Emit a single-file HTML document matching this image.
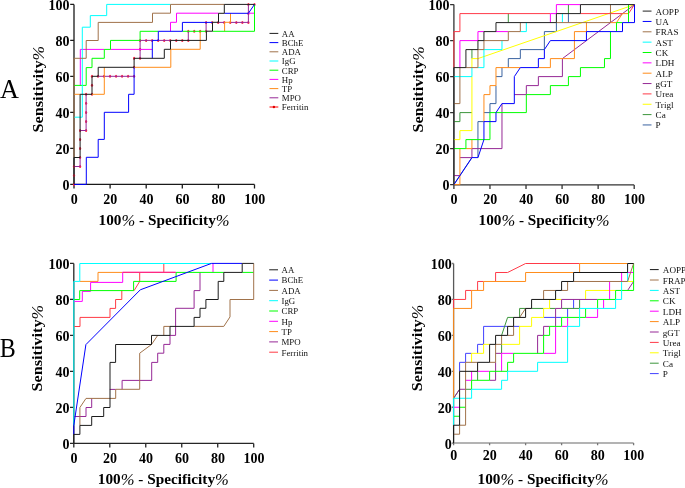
<!DOCTYPE html>
<html><head><meta charset="utf-8"><style>
html,body{margin:0;padding:0;background:#fff;overflow:hidden;}
svg{display:block;will-change:transform;}
text{font-family:"Liberation Serif", serif;fill:#000;}
.tk{font-size:14.0px;font-weight:bold;}
.at{font-size:15.5px;font-weight:bold;}
.lg{fill:#111;}
.pc{font-weight:normal;font-style:italic;font-size:16.8px;baseline-shift:-0.8px;}
.pl{font-size:26.5px;}
</style></head><body>
<svg width="685" height="488" viewBox="0 0 685 488">
<path d="M74,4.4V184.4" fill="none" stroke="#1a1a1a" stroke-width="1.3"/>
<path d="M74,184.4H254.5" fill="none" stroke="#1a1a1a" stroke-width="1.3"/>
<path d="M70.2,184.4H74M74,184.4V188.4M70.2,148.4H74M110.1,184.4V188.4M70.2,112.4H74M146.2,184.4V188.4M70.2,76.4H74M182.3,184.4V188.4M70.2,40.4H74M218.4,184.4V188.4M70.2,4.4H74M254.5,184.4V188.4" fill="none" stroke="#1a1a1a" stroke-width="1.3"/>
<ellipse cx="74" cy="184.4" rx="1.1" ry="1.5" fill="#ff2448"/>
<ellipse cx="74" cy="175.45" rx="1.1" ry="1.5" fill="#ff2448"/>
<ellipse cx="74" cy="166.5" rx="1.1" ry="1.5" fill="#ff2448"/>
<ellipse cx="80.1" cy="166.5" rx="1.1" ry="1.5" fill="#ff2448"/>
<ellipse cx="80.1" cy="157.5" rx="1.1" ry="1.5" fill="#ff2448"/>
<ellipse cx="80.1" cy="148.5" rx="1.1" ry="1.5" fill="#ff2448"/>
<ellipse cx="80.1" cy="139.5" rx="1.1" ry="1.5" fill="#ff2448"/>
<ellipse cx="80.1" cy="130.5" rx="1.1" ry="1.5" fill="#ff2448"/>
<ellipse cx="86.1" cy="130.5" rx="1.1" ry="1.5" fill="#ff2448"/>
<ellipse cx="86.1" cy="121.45" rx="1.1" ry="1.5" fill="#ff2448"/>
<ellipse cx="86.1" cy="112.4" rx="1.1" ry="1.5" fill="#ff2448"/>
<ellipse cx="86.1" cy="103.35" rx="1.1" ry="1.5" fill="#ff2448"/>
<ellipse cx="86.1" cy="94.3" rx="1.1" ry="1.5" fill="#ff2448"/>
<ellipse cx="92" cy="94.3" rx="1.1" ry="1.5" fill="#ff2448"/>
<ellipse cx="92" cy="85.3" rx="1.1" ry="1.5" fill="#ff2448"/>
<ellipse cx="92" cy="76.3" rx="1.1" ry="1.5" fill="#ff2448"/>
<ellipse cx="98.01" cy="76.3" rx="1.1" ry="1.5" fill="#ff2448"/>
<ellipse cx="104.03" cy="76.3" rx="1.1" ry="1.5" fill="#ff2448"/>
<ellipse cx="110.04" cy="76.3" rx="1.1" ry="1.5" fill="#ff2448"/>
<ellipse cx="116.06" cy="76.3" rx="1.1" ry="1.5" fill="#ff2448"/>
<ellipse cx="122.07" cy="76.3" rx="1.1" ry="1.5" fill="#ff2448"/>
<ellipse cx="128.09" cy="76.3" rx="1.1" ry="1.5" fill="#ff2448"/>
<ellipse cx="134.1" cy="76.3" rx="1.1" ry="1.5" fill="#ff2448"/>
<ellipse cx="134.1" cy="67.3" rx="1.1" ry="1.5" fill="#ff2448"/>
<ellipse cx="134.1" cy="58.3" rx="1.1" ry="1.5" fill="#ff2448"/>
<ellipse cx="140.1" cy="58.3" rx="1.1" ry="1.5" fill="#ff2448"/>
<ellipse cx="140.1" cy="49.35" rx="1.1" ry="1.5" fill="#ff2448"/>
<ellipse cx="140.1" cy="40.4" rx="1.1" ry="1.5" fill="#ff2448"/>
<ellipse cx="146.12" cy="40.4" rx="1.1" ry="1.5" fill="#ff2448"/>
<ellipse cx="152.15" cy="40.4" rx="1.1" ry="1.5" fill="#ff2448"/>
<ellipse cx="158.18" cy="40.4" rx="1.1" ry="1.5" fill="#ff2448"/>
<ellipse cx="164.2" cy="40.4" rx="1.1" ry="1.5" fill="#ff2448"/>
<ellipse cx="170.22" cy="40.4" rx="1.1" ry="1.5" fill="#ff2448"/>
<ellipse cx="176.25" cy="40.4" rx="1.1" ry="1.5" fill="#ff2448"/>
<ellipse cx="182.28" cy="40.4" rx="1.1" ry="1.5" fill="#ff2448"/>
<ellipse cx="188.3" cy="40.4" rx="1.1" ry="1.5" fill="#ff2448"/>
<ellipse cx="188.3" cy="31.2" rx="1.1" ry="1.5" fill="#ff2448"/>
<ellipse cx="194.23" cy="31.2" rx="1.1" ry="1.5" fill="#ff2448"/>
<ellipse cx="200.17" cy="31.2" rx="1.1" ry="1.5" fill="#ff2448"/>
<ellipse cx="206.1" cy="31.2" rx="1.1" ry="1.5" fill="#ff2448"/>
<ellipse cx="206.1" cy="22.4" rx="1.1" ry="1.5" fill="#ff2448"/>
<ellipse cx="212.14" cy="22.4" rx="1.1" ry="1.5" fill="#ff2448"/>
<ellipse cx="218.19" cy="22.4" rx="1.1" ry="1.5" fill="#ff2448"/>
<ellipse cx="224.23" cy="22.4" rx="1.1" ry="1.5" fill="#ff2448"/>
<ellipse cx="230.27" cy="22.4" rx="1.1" ry="1.5" fill="#ff2448"/>
<ellipse cx="236.31" cy="22.4" rx="1.1" ry="1.5" fill="#ff2448"/>
<ellipse cx="242.36" cy="22.4" rx="1.1" ry="1.5" fill="#ff2448"/>
<ellipse cx="248.4" cy="22.4" rx="1.1" ry="1.5" fill="#ff2448"/>
<ellipse cx="248.4" cy="13.4" rx="1.1" ry="1.5" fill="#ff2448"/>
<ellipse cx="248.4" cy="4.4" rx="1.1" ry="1.5" fill="#ff2448"/>
<ellipse cx="254.5" cy="4.4" rx="1.1" ry="1.5" fill="#ff2448"/>
<path d="M74,166.5 L80.1,166.5 L80.1,157.5 M80.1,130.5 L86.1,130.5 L86.1,94.3 M98.2,76.3 L134.1,76.3 M140.1,58.3 L140.1,40.4 L152.1,40.4 M158.3,40.4 L170.5,40.4 M188.3,40.4 L188.3,31.2 M206.1,31.2 L206.1,22.4 M218.5,22.4 L224.6,22.4 M230.5,22.4 L248.4,22.4 L248.4,4.4" fill="none" stroke="#962896" stroke-width="1.0" stroke-linejoin="miter"/>
<path d="M74,94.3 L80.1,94.3 M92,94.3 L104.3,94.3 L104.3,67.3 M134.1,67.3 L170.8,67.3 L170.8,49.3 L200.2,49.3 L200.2,31.2 M224.6,31.2 L224.6,22.3 L230.5,22.3 L230.5,13.3" fill="none" stroke="#ff8c1a" stroke-width="1.0" stroke-linejoin="miter"/>
<path d="M80.3,85.4 L80.3,49.4 L104.3,49.4 M110.5,49.4 L152.1,49.4 M170.5,31.3 L170.5,22.3 L176.5,22.3 L176.5,13.2 L218.5,13.2 M248.4,13.2 L254.5,13.2" fill="none" stroke="#ff00ff" stroke-width="1.0" stroke-linejoin="miter"/>
<path d="M74,85.4 L86.2,85.4 L86.2,67.6 L92,67.6 L92,58.3 L104.3,58.3 L104.3,49.4 L110.5,49.4 L110.5,40.4 L140.1,40.4 L140.1,31.3 L158.3,31.3 M182.4,31.3 L206.4,31.3 M212.5,31.3 L254.5,31.3 L254.5,4.4" fill="none" stroke="#00ff00" stroke-width="1.0" stroke-linejoin="miter"/>
<path d="M74,117.2 L82.3,117.2 L82.3,27.2 L90.3,27.2 L90.3,15.6 L106.7,15.6 L106.7,4.4 L170.5,4.4" fill="none" stroke="#00ffff" stroke-width="1.0" stroke-linejoin="miter"/>
<path d="M74,157.5 L74,58.3 L86.2,58.3 L86.2,40.5 L98.2,40.5 L98.2,22.4 L152.5,22.4 L152.5,13.2 L170.5,13.2 L170.5,4.4 L224.3,4.4" fill="none" stroke="#a0724a" stroke-width="1.0" stroke-linejoin="miter"/>
<path d="M74,184.4 L86.3,184.4 L86.3,157.3 L98.2,157.3 L98.2,139.4 L104.3,139.4 L104.3,112.3 L128.6,112.3 L128.6,94.3 L134.1,94.3 L134.1,67.3 M152.3,58.3 L152.3,40.4 L158.3,40.4 L158.3,31.3 L182.4,31.3 L182.4,22.4 L212.5,22.4 M224.3,13.3 L248.4,13.3 L254.5,4.4" fill="none" stroke="#0000ff" stroke-width="1.0" stroke-linejoin="miter"/>
<path d="M74,184.4 L74,157.5 L80.1,157.5 L80.1,94.3 L92,94.3 L92,76.3 L98.2,76.3 L98.2,67.3 L134.1,67.3 L134.1,58.3 L164.3,58.3 L164.3,49.3 L170.5,49.3 L170.5,40.4 L206.4,40.4 L206.4,31.2 L212.5,31.2 L212.5,22.3 L218.5,22.3 L218.5,13.3 L224.3,13.3 L224.3,4.4 L254.5,4.4" fill="none" stroke="#1c1c1c" stroke-width="1.0" stroke-linejoin="miter"/>
<text x="69.6" y="189.7" text-anchor="end" class="tk">0</text>
<text x="74.2" y="204" text-anchor="middle" class="tk">0</text>
<text x="69.6" y="153.7" text-anchor="end" class="tk">20</text>
<text x="110.3" y="204" text-anchor="middle" class="tk">20</text>
<text x="69.6" y="117.7" text-anchor="end" class="tk">40</text>
<text x="146.4" y="204" text-anchor="middle" class="tk">40</text>
<text x="69.6" y="81.7" text-anchor="end" class="tk">60</text>
<text x="182.5" y="204" text-anchor="middle" class="tk">60</text>
<text x="69.6" y="45.7" text-anchor="end" class="tk">80</text>
<text x="218.6" y="204" text-anchor="middle" class="tk">80</text>
<text x="69.6" y="9.7" text-anchor="end" class="tk">100</text>
<text x="254.7" y="204" text-anchor="middle" class="tk">100</text>
<text x="98.6" y="224.9" class="at" textLength="131" lengthAdjust="spacingAndGlyphs">100<tspan class="pc">%</tspan> - Specificity<tspan class="pc">%</tspan></text>
<text transform="translate(42.6,132.4) rotate(-90)" class="at" textLength="86.5" lengthAdjust="spacingAndGlyphs">Sensitivity<tspan class="pc">%</tspan></text>
<path d="M269.5,33.4H278.3" stroke="#1c1c1c" stroke-width="1.0"/>
<text transform="translate(281.8,36.7) scale(1.08,1)" class="lg" font-size="8.2">AA</text>
<path d="M269.5,42.6H278.3" stroke="#0000ff" stroke-width="1.0"/>
<text transform="translate(281.8,45.9) scale(1.08,1)" class="lg" font-size="8.2">BChE</text>
<path d="M269.5,51.8H278.3" stroke="#a0724a" stroke-width="1.0"/>
<text transform="translate(281.8,55.1) scale(1.08,1)" class="lg" font-size="8.2">ADA</text>
<path d="M269.5,61H278.3" stroke="#00ffff" stroke-width="1.0"/>
<text transform="translate(281.8,64.3) scale(1.08,1)" class="lg" font-size="8.2">IgG</text>
<path d="M269.5,70.2H278.3" stroke="#00ff00" stroke-width="1.0"/>
<text transform="translate(281.8,73.5) scale(1.08,1)" class="lg" font-size="8.2">CRP</text>
<path d="M269.5,79.4H278.3" stroke="#ff00ff" stroke-width="1.0"/>
<text transform="translate(281.8,82.7) scale(1.08,1)" class="lg" font-size="8.2">Hp</text>
<path d="M269.5,88.6H278.3" stroke="#ff8c1a" stroke-width="1.0"/>
<text transform="translate(281.8,91.9) scale(1.08,1)" class="lg" font-size="8.2">TP</text>
<path d="M269.5,97.8H278.3" stroke="#962896" stroke-width="1.0"/>
<text transform="translate(281.8,101.1) scale(1.08,1)" class="lg" font-size="8.2">MPO</text>
<path d="M269.5,107H278.3" stroke="#ff0000" stroke-width="1.0"/>
<circle cx="273.9" cy="107" r="1.2" fill="#e00000"/>
<text transform="translate(281.8,110.3) scale(1.08,1)" class="lg" font-size="8.2">Ferritin</text>
<text x="0.1" y="98.2" class="pl" textLength="18.9" lengthAdjust="spacingAndGlyphs">A</text>
<path d="M453.9,4.6V184.9" fill="none" stroke="#333333" stroke-width="1.3"/>
<path d="M453.9,184.9H634.2" fill="none" stroke="#333333" stroke-width="1.3"/>
<path d="M450.1,184.6H453.9M453.9,184.9V188.9M450.1,148.6H453.9M489.96,184.9V188.9M450.1,112.6H453.9M526.02,184.9V188.9M450.1,76.6H453.9M562.08,184.9V188.9M450.1,40.6H453.9M598.14,184.9V188.9M450.1,4.6H453.9M634.2,184.9V188.9" fill="none" stroke="#333333" stroke-width="1.3"/>
<path d="M453.9,184.6 L471.93,157.6 M477.94,157.6 L477.94,121.6 L483.95,121.6 M483.95,112.6 L489.96,112.6 L489.96,103.6 L495.97,103.6 L495.97,85.6 M495.97,76.6 L501.98,76.6 L501.98,67.6 M508.31,67.6 L508.31,58.6 L520.33,58.6 L520.33,49.6 L544.37,49.6 L544.37,31.6 L556.39,31.6 L556.39,22.6 M568.41,22.6 L568.41,13.6" fill="none" stroke="#3a63a0" stroke-width="1.0" stroke-linejoin="miter"/>
<path d="M453.9,121.6 L459.91,121.6 L459.91,112.6 L471.93,112.6 M471.93,58.6 L471.93,49.6 M508.31,22.6 L508.31,13.6 M568.41,13.6 L568.41,4.6" fill="none" stroke="#3c963c" stroke-width="1.0" stroke-linejoin="miter"/>
<path d="M453.9,139.6 L459.91,139.6 L459.91,130.6 L471.93,130.6 L471.93,76.6 M471.93,67.6 L471.93,58.6 L477.94,58.6 L634.52,4.6" fill="none" stroke="#ffff00" stroke-width="1.0" stroke-linejoin="miter"/>
<path d="M453.9,67.6 L453.9,31.6 L459.91,31.6 L459.91,13.6 L550.38,13.6 M580.43,13.6 L622.5,13.6 M628.51,13.6 L634.52,4.6" fill="none" stroke="#ff3a48" stroke-width="1.0" stroke-linejoin="miter"/>
<path d="M453.9,175.6 L459.91,175.6 M459.91,157.6 L471.93,157.6 L471.93,148.6 L501.98,148.6 L501.98,103.6 M514.32,94.6 L526.34,94.6 L526.34,85.6 L538.36,85.6 L538.36,76.6 L562.4,76.6 L562.4,58.6 L634.52,4.6" fill="none" stroke="#962896" stroke-width="1.0" stroke-linejoin="miter"/>
<path d="M453.9,184.6 L459.91,184.6 L459.91,148.6 M465.92,148.6 L471.93,148.6 L471.93,139.6 M483.95,121.6 L483.95,94.6 L489.96,94.6 L489.96,85.6 L495.97,85.6 L495.97,67.6 L520.33,67.6 M538.36,67.6 L550.38,67.6 L550.38,58.6 L574.42,58.6 L574.42,31.6 L586.44,31.6 L586.44,22.6 M610.48,22.6 L616.49,22.6 L622.5,13.6 L628.51,13.6" fill="none" stroke="#ff8c1a" stroke-width="1.0" stroke-linejoin="miter"/>
<path d="M459.91,67.6 L459.91,40.6 L477.94,40.6 L477.94,31.6 L483.95,31.6 M495.97,31.6 L508.31,31.6 M550.38,22.6 L550.38,13.6 L556.39,13.6 L556.39,4.6 L580.43,4.6" fill="none" stroke="#ff00ff" stroke-width="1.0" stroke-linejoin="miter"/>
<path d="M453.9,148.6 L465.92,148.6 L465.92,139.6 L489.96,139.6 L489.96,112.6 L526.34,112.6 L526.34,94.6 L550.38,94.6 L550.38,85.6 L568.41,85.6 L568.41,76.6 L580.43,76.6 L580.43,67.6 L604.47,67.6 L604.47,58.6 L610.48,58.6 L610.48,31.6 M616.49,31.6 L616.49,22.6 L622.5,22.6 M628.51,22.6 L628.51,4.6" fill="none" stroke="#00ff00" stroke-width="1.0" stroke-linejoin="miter"/>
<path d="M453.9,76.6 L471.93,76.6 L471.93,67.6 M477.94,67.6 L483.95,67.6 L483.95,49.6 L501.98,49.6 L501.98,40.6 M520.33,31.6 L526.34,31.6 L526.34,22.6 M562.4,22.6 L562.4,13.6" fill="none" stroke="#00ffff" stroke-width="1.0" stroke-linejoin="miter"/>
<path d="M453.9,103.6 L459.91,103.6 L459.91,67.6 M465.92,67.6 L477.94,67.6 L477.94,49.6 L483.95,49.6 L483.95,40.6 L508.31,40.6 L508.31,31.6 L520.33,31.6 L520.33,22.6 M556.39,22.6 L610.48,22.6 L610.48,4.6" fill="none" stroke="#a0724a" stroke-width="1.0" stroke-linejoin="miter"/>
<path d="M453.9,184.6 L471.93,157.6 L477.94,157.6 L483.95,139.6 L483.95,121.6 L495.97,121.6 L495.97,112.6 L501.98,103.6 L514.32,103.6 L514.32,76.6 L520.33,67.6 L538.36,67.6 L538.36,58.6 L544.37,58.6 L544.37,49.6 L550.38,40.6 L586.44,40.6 L586.44,31.6 L622.5,31.6 L622.5,22.6 L634.52,22.6 L634.52,4.6" fill="none" stroke="#0000ff" stroke-width="1.0" stroke-linejoin="miter"/>
<path d="M453.9,184.6 L453.9,67.6 L465.92,67.6 L465.92,49.6 L477.94,49.6 L477.94,40.6 L483.95,40.6 L483.95,31.6 L495.97,31.6 L495.97,22.6 L556.39,22.6 L556.39,13.6 L580.43,13.6 L580.43,4.6 L634.52,4.6" fill="none" stroke="#222222" stroke-width="1.0" stroke-linejoin="miter"/>
<text x="449.5" y="189.9" text-anchor="end" class="tk">0</text>
<text x="454.1" y="204.2" text-anchor="middle" class="tk">0</text>
<text x="449.5" y="153.9" text-anchor="end" class="tk">20</text>
<text x="490.16" y="204.2" text-anchor="middle" class="tk">20</text>
<text x="449.5" y="117.9" text-anchor="end" class="tk">40</text>
<text x="526.22" y="204.2" text-anchor="middle" class="tk">40</text>
<text x="449.5" y="81.9" text-anchor="end" class="tk">60</text>
<text x="562.28" y="204.2" text-anchor="middle" class="tk">60</text>
<text x="449.5" y="45.9" text-anchor="end" class="tk">80</text>
<text x="598.34" y="204.2" text-anchor="middle" class="tk">80</text>
<text x="449.5" y="9.9" text-anchor="end" class="tk">100</text>
<text x="634.4" y="204.2" text-anchor="middle" class="tk">100</text>
<text x="478.5" y="225.1" class="at" textLength="131" lengthAdjust="spacingAndGlyphs">100<tspan class="pc">%</tspan> - Specificity<tspan class="pc">%</tspan></text>
<text transform="translate(422.5,132.6) rotate(-90)" class="at" textLength="86.5" lengthAdjust="spacingAndGlyphs">Sensitivity<tspan class="pc">%</tspan></text>
<path d="M642.7,11.1H651.5" stroke="#222222" stroke-width="1.0"/>
<text transform="translate(655.6,14.6) scale(1.03,1)" class="lg" font-size="8.9">AOPP</text>
<path d="M642.7,21.45H651.5" stroke="#0000ff" stroke-width="1.0"/>
<text transform="translate(655.6,24.95) scale(1.03,1)" class="lg" font-size="8.9">UA</text>
<path d="M642.7,31.8H651.5" stroke="#a0724a" stroke-width="1.0"/>
<text transform="translate(655.6,35.3) scale(1.03,1)" class="lg" font-size="8.9">FRAS</text>
<path d="M642.7,42.15H651.5" stroke="#00ffff" stroke-width="1.0"/>
<text transform="translate(655.6,45.65) scale(1.03,1)" class="lg" font-size="8.9">AST</text>
<path d="M642.7,52.5H651.5" stroke="#00ff00" stroke-width="1.0"/>
<text transform="translate(655.6,56) scale(1.03,1)" class="lg" font-size="8.9">CK</text>
<path d="M642.7,62.85H651.5" stroke="#ff00ff" stroke-width="1.0"/>
<text transform="translate(655.6,66.35) scale(1.03,1)" class="lg" font-size="8.9">LDH</text>
<path d="M642.7,73.2H651.5" stroke="#ff8c1a" stroke-width="1.0"/>
<text transform="translate(655.6,76.7) scale(1.03,1)" class="lg" font-size="8.9">ALP</text>
<path d="M642.7,83.55H651.5" stroke="#962896" stroke-width="1.0"/>
<text transform="translate(655.6,87.05) scale(1.03,1)" class="lg" font-size="8.9">gGT</text>
<path d="M642.7,93.9H651.5" stroke="#ff3a48" stroke-width="1.0"/>
<text transform="translate(655.6,97.4) scale(1.03,1)" class="lg" font-size="8.9">Urea</text>
<path d="M642.7,104.25H651.5" stroke="#ffff00" stroke-width="1.0"/>
<text transform="translate(655.6,107.75) scale(1.03,1)" class="lg" font-size="8.9">Trigl</text>
<path d="M642.7,114.6H651.5" stroke="#3c963c" stroke-width="1.0"/>
<text transform="translate(655.6,118.1) scale(1.03,1)" class="lg" font-size="8.9">Ca</text>
<path d="M642.7,124.95H651.5" stroke="#3a63a0" stroke-width="1.0"/>
<text transform="translate(655.6,128.45) scale(1.03,1)" class="lg" font-size="8.9">P</text>
<path d="M73.8,263.4V443.4" fill="none" stroke="#262626" stroke-width="1.3"/>
<path d="M73.8,443.4H253.7" fill="none" stroke="#262626" stroke-width="1.3"/>
<path d="M70,443.4H73.8M73.8,443.4V447.4M70,407.4H73.8M109.78,443.4V447.4M70,371.4H73.8M145.76,443.4V447.4M70,335.4H73.8M181.74,443.4V447.4M70,299.4H73.8M217.72,443.4V447.4M70,263.4H73.8M253.7,443.4V447.4" fill="none" stroke="#262626" stroke-width="1.3"/>
<path d="M73.8,326.5 L80,326.5 L80,317.4 L110,317.4 L110,308.4 L115.6,308.4 L115.6,299.5 L121.8,299.5 L121.8,290.6 M133.6,290.6 L134.1,290.6 L139.7,281.4 L139.7,272.4 M163.8,272.4 L163.8,263.4" fill="none" stroke="#ff3a44" stroke-width="1.0" stroke-linejoin="miter"/>
<path d="M73.8,416.5 L86,416.5 L86,407.5 L91.7,407.5 L91.7,398.4 M109.8,389.4 L115.7,389.4 M122.1,389.4 L122.1,380.4 L151.7,380.4 L151.7,362.4 L157.7,362.4 L157.7,353.2 L163.8,353.2 L163.8,344.4 L170,344.4 L170,335.4 L175.6,335.4 L175.6,308.3 L194.1,308.3 L194.1,290.6 L200,290.6 L200,272.4" fill="none" stroke="#962896" stroke-width="1.0" stroke-linejoin="miter"/>
<path d="M79.8,281.4 L98,281.4 L98,272.4 L122.7,272.4" fill="none" stroke="#ff8c1a" stroke-width="1.0" stroke-linejoin="miter"/>
<path d="M73.8,301.4 L82.3,301.4 L82.3,291.4 L90.6,291.4 L90.6,282.4 L122.7,282.4 L122.7,272.4 L176.1,272.4 M213,272.4 L213,263.4" fill="none" stroke="#ff00ff" stroke-width="1.0" stroke-linejoin="miter"/>
<path d="M73.8,299.5 L79.7,299.5 L79.7,290.6 L133.6,290.6 L133.6,281.4 L176.1,281.4 L176.1,272.4 L223.8,272.4 M242.2,272.4 L253.7,272.4" fill="none" stroke="#00ff00" stroke-width="1.0" stroke-linejoin="miter"/>
<path d="M73.8,425.4 L73.8,281.4 L79.8,281.4 L79.8,263.5 L211.5,263.5" fill="none" stroke="#00ffff" stroke-width="1.0" stroke-linejoin="miter"/>
<path d="M79.9,425.4 L79.9,407.5 L86,398.4 L115.7,398.4 L115.7,389.3 L139.7,389.3 L139.7,353.2 L151.5,344.5 L157.7,335.4 M163.8,335.4 L163.8,326.4 L170,326.4 M194.1,326.4 L223.8,326.4 L230,316.9 L230,299.5 L253.7,299.5 L253.7,263.4" fill="none" stroke="#a0724a" stroke-width="1.0" stroke-linejoin="miter"/>
<path d="M73.8,434.4 L73.8,425.4 L85.9,344.6 L140.3,289.8 L211.5,263.4 L242.2,263.4" fill="none" stroke="#0000ff" stroke-width="1.0" stroke-linejoin="miter"/>
<path d="M73.8,443.4 L73.8,434.4 L79.9,434.4 L79.9,425.4 L91.7,425.4 L91.7,416.5 L103.7,416.5 L103.7,407.5 L110,407.5 L110,362.4 L115.6,362.4 L115.6,344.5 L151.5,344.5 L151.5,335.4 L170,335.4 L170,326.4 L194.1,326.4 L194.1,317.4 L200,317.4 L200,308.3 L205.9,308.3 L205.9,299.5 L218.2,299.5 L218.2,281.4 L223.8,281.4 L223.8,272.4 L242.2,272.4 L242.2,263.4 L253.7,263.4" fill="none" stroke="#1c1c1c" stroke-width="1.0" stroke-linejoin="miter"/>
<polyline points="122.7,272.4 175.6,272.4" fill="none" stroke="#ff2a80" stroke-width="1.1"/>
<text x="69.4" y="448.7" text-anchor="end" class="tk">0</text>
<text x="74" y="463" text-anchor="middle" class="tk">0</text>
<text x="69.4" y="412.7" text-anchor="end" class="tk">20</text>
<text x="109.98" y="463" text-anchor="middle" class="tk">20</text>
<text x="69.4" y="376.7" text-anchor="end" class="tk">40</text>
<text x="145.96" y="463" text-anchor="middle" class="tk">40</text>
<text x="69.4" y="340.7" text-anchor="end" class="tk">60</text>
<text x="181.94" y="463" text-anchor="middle" class="tk">60</text>
<text x="69.4" y="304.7" text-anchor="end" class="tk">80</text>
<text x="217.92" y="463" text-anchor="middle" class="tk">80</text>
<text x="69.4" y="268.7" text-anchor="end" class="tk">100</text>
<text x="253.9" y="463" text-anchor="middle" class="tk">100</text>
<text x="97.8" y="483.9" class="at" textLength="131" lengthAdjust="spacingAndGlyphs">100<tspan class="pc">%</tspan> - Specificity<tspan class="pc">%</tspan></text>
<text transform="translate(42.4,391.4) rotate(-90)" class="at" textLength="86.5" lengthAdjust="spacingAndGlyphs">Sensitivity<tspan class="pc">%</tspan></text>
<path d="M269.2,269.8H278" stroke="#1c1c1c" stroke-width="1.0"/>
<text transform="translate(281.5,273.1) scale(1.08,1)" class="lg" font-size="8.2">AA</text>
<path d="M269.2,280.1H278" stroke="#0000ff" stroke-width="1.0"/>
<text transform="translate(281.5,283.4) scale(1.08,1)" class="lg" font-size="8.2">BChE</text>
<path d="M269.2,290.4H278" stroke="#a0724a" stroke-width="1.0"/>
<text transform="translate(281.5,293.7) scale(1.08,1)" class="lg" font-size="8.2">ADA</text>
<path d="M269.2,300.7H278" stroke="#00ffff" stroke-width="1.0"/>
<text transform="translate(281.5,304) scale(1.08,1)" class="lg" font-size="8.2">IgG</text>
<path d="M269.2,311H278" stroke="#00ff00" stroke-width="1.0"/>
<text transform="translate(281.5,314.3) scale(1.08,1)" class="lg" font-size="8.2">CRP</text>
<path d="M269.2,321.3H278" stroke="#ff00ff" stroke-width="1.0"/>
<text transform="translate(281.5,324.6) scale(1.08,1)" class="lg" font-size="8.2">Hp</text>
<path d="M269.2,331.6H278" stroke="#ff8c1a" stroke-width="1.0"/>
<text transform="translate(281.5,334.9) scale(1.08,1)" class="lg" font-size="8.2">TP</text>
<path d="M269.2,341.9H278" stroke="#962896" stroke-width="1.0"/>
<text transform="translate(281.5,345.2) scale(1.08,1)" class="lg" font-size="8.2">MPO</text>
<path d="M269.2,352.2H278" stroke="#ff3a44" stroke-width="1.0"/>
<text transform="translate(281.5,355.5) scale(1.08,1)" class="lg" font-size="8.2">Ferritin</text>
<text x="-0.3" y="357.0" class="pl" textLength="16.0" lengthAdjust="spacingAndGlyphs">B</text>
<path d="M453.6,263.5V443" fill="none" stroke="#5a5a5a" stroke-width="1.3"/>
<path d="M453.6,443H633.6" fill="none" stroke="#9a9a9a" stroke-width="1.3"/>
<path d="M451.8,443.2H453.6M453.6,443V445.2M451.8,407.26H453.6M489.6,443V445.2M451.8,371.32H453.6M525.6,443V445.2M451.8,335.38H453.6M561.6,443V445.2M451.8,299.44H453.6M597.6,443V445.2M451.8,263.5H453.6M633.6,443V445.2" fill="none" stroke="#777777" stroke-width="1.3"/>
<path d="M459.6,371.32 L459.6,362.33 L465.6,362.33 L465.6,353.35 L471.6,353.35 M477.6,353.35 L477.6,344.37 L483.6,344.37 L483.6,326.39 L507.6,326.39 M513.6,326.39 L519.6,326.39 M543.6,317.41 L561.6,317.41 M567.6,317.41 L567.6,308.43 M573.6,308.43 L573.6,299.44" fill="none" stroke="#4040ff" stroke-width="1.0" stroke-linejoin="miter"/>
<path d="M453.6,398.27 L459.6,389.29 M465.6,389.29 L471.6,389.29 M477.6,380.31 L477.6,371.32 M501.6,353.35 L501.6,344.37 M501.6,335.38 L507.6,317.41 L513.6,317.41 M519.6,317.41 L519.6,308.43 L525.6,308.43 M531.6,308.43 L543.6,308.43 M549.6,308.43 L555.6,308.43 M561.6,308.43 L579.6,308.43 L579.6,299.44" fill="none" stroke="#3c963c" stroke-width="1.0" stroke-linejoin="miter"/>
<path d="M471.6,362.33 L471.6,353.35 L483.6,353.35 L483.6,344.37 L489.6,344.37 M501.6,344.37 L519.6,344.37 L519.6,326.39 L531.6,326.39 L531.6,317.41 L543.6,317.41 L543.6,308.43 L549.6,308.43 L549.6,299.44 M555.6,299.44 L561.6,299.44 M585.6,299.44 L585.6,290.45 L615.6,290.45 M627.6,281.47 L633.6,281.47" fill="none" stroke="#ffff00" stroke-width="1.0" stroke-linejoin="miter"/>
<path d="M453.6,308.43 L453.6,299.44 L465.6,299.44 L465.6,290.45 L471.6,290.45 M477.6,290.45 L477.6,281.47 L483.6,281.47 M495.6,281.47 L495.6,272.49 L507.6,272.49 L525.6,263.5 L579.6,263.5" fill="none" stroke="#ff3a48" stroke-width="1.0" stroke-linejoin="miter"/>
<path d="M453.6,398.27 L459.6,389.29 L465.6,389.29 M489.6,380.31 L495.6,380.31 L495.6,362.33 M495.6,353.35 L501.6,353.35 M537.6,353.35 L537.6,335.38 L543.6,335.38 L543.6,326.39 L549.6,326.39 M555.6,326.39 L555.6,308.43 L561.6,308.43 L561.6,299.44 L597.6,299.44 M627.6,290.45 L633.6,281.47" fill="none" stroke="#962896" stroke-width="1.0" stroke-linejoin="miter"/>
<path d="M453.6,398.27 L453.6,308.43 L471.6,308.43 L471.6,290.45 L483.6,290.45 L483.6,281.47 L525.6,281.47 L525.6,272.49 L573.6,272.49 M579.6,272.49 L579.6,263.5 L627.6,263.5" fill="none" stroke="#ff8c1a" stroke-width="1.0" stroke-linejoin="miter"/>
<path d="M453.6,407.26 L459.6,407.26 M465.6,380.31 L471.6,380.31 L471.6,371.32 M477.6,371.32 L489.6,371.32 M501.6,371.32 L501.6,353.35 L513.6,353.35 M543.6,353.35 L555.6,353.35 L555.6,326.39 M561.6,326.39 L567.6,326.39 L567.6,317.41 M585.6,317.41 L597.6,317.41 L597.6,308.43 M603.6,308.43 L603.6,299.44 M609.6,299.44 L609.6,281.47 M621.6,281.47 L621.6,272.49 M627.6,272.49 L633.6,272.49" fill="none" stroke="#ff00ff" stroke-width="1.0" stroke-linejoin="miter"/>
<path d="M453.6,416.25 L459.6,416.25 M459.6,407.26 L465.6,407.26 M471.6,389.29 L471.6,380.31 L489.6,380.31 L489.6,371.32 L507.6,371.32 L507.6,362.33 L513.6,362.33 L513.6,353.35 L543.6,353.35 L543.6,335.38 L549.6,335.38 L549.6,326.39 L561.6,326.39 L561.6,317.41 L585.6,317.41 L585.6,308.43 M597.6,308.43 L597.6,299.44 L615.6,299.44 L615.6,290.45 L633.6,290.45 L633.6,263.5" fill="none" stroke="#00ff00" stroke-width="1.0" stroke-linejoin="miter"/>
<path d="M453.6,425.23 L453.6,398.27 L471.6,398.27 L471.6,389.29 L501.6,389.29 L501.6,380.31 L507.6,380.31 L507.6,371.32 L537.6,371.32 L537.6,362.33 L567.6,362.33 L567.6,326.39 L579.6,326.39 L579.6,308.43 L615.6,308.43 L615.6,299.44 L621.6,299.44 L621.6,281.47 M627.6,281.47 L627.6,272.49" fill="none" stroke="#00ffff" stroke-width="1.0" stroke-linejoin="miter"/>
<path d="M453.6,434.21 L459.6,434.21 L459.6,425.23 L465.6,425.23 L465.6,362.33 L477.6,362.33 M489.6,362.33 L495.6,362.33 L495.6,344.37 L501.6,344.37 L501.6,335.38 M507.6,335.38 L513.6,335.38 L513.6,326.39 M519.6,317.41 L525.6,308.43 M543.6,299.44 L543.6,290.45 L555.6,290.45 M561.6,290.45 L567.6,290.45 L567.6,281.47 M573.6,281.47 L627.6,281.47 L633.6,263.5" fill="none" stroke="#a0724a" stroke-width="1.0" stroke-linejoin="miter"/>
<path d="M453.6,443.2 L453.6,425.23 L459.6,425.23 L459.6,371.32 L477.6,371.32 L477.6,362.33 L489.6,362.33 L489.6,344.37 L495.6,344.37 L495.6,335.38 L507.6,335.38 L507.6,326.39 L513.6,326.39 L513.6,317.41 L525.6,317.41 L525.6,308.43 L531.6,308.43 L531.6,299.44 L555.6,299.44 L555.6,290.45 L561.6,290.45 L561.6,281.47 L573.6,281.47 L573.6,272.49 L627.6,272.49 L627.6,263.5 L633.6,263.5" fill="none" stroke="#161616" stroke-width="1.0" stroke-linejoin="miter"/>
<text x="451.8" y="448.5" text-anchor="end" class="tk">0</text>
<text x="453.8" y="460" text-anchor="middle" class="tk">0</text>
<text x="451.8" y="412.56" text-anchor="end" class="tk">20</text>
<text x="489.8" y="460" text-anchor="middle" class="tk">20</text>
<text x="451.8" y="376.62" text-anchor="end" class="tk">40</text>
<text x="525.8" y="460" text-anchor="middle" class="tk">40</text>
<text x="451.8" y="340.68" text-anchor="end" class="tk">60</text>
<text x="561.8" y="460" text-anchor="middle" class="tk">60</text>
<text x="451.8" y="304.74" text-anchor="end" class="tk">80</text>
<text x="597.8" y="460" text-anchor="middle" class="tk">80</text>
<text x="451.8" y="268.8" text-anchor="end" class="tk">100</text>
<text x="633.8" y="460" text-anchor="middle" class="tk">100</text>
<text x="477.6" y="483.7" class="at" textLength="131" lengthAdjust="spacingAndGlyphs">100<tspan class="pc">%</tspan> - Specificity<tspan class="pc">%</tspan></text>
<text transform="translate(422.2,391.2) rotate(-90)" class="at" textLength="86.5" lengthAdjust="spacingAndGlyphs">Sensitivity<tspan class="pc">%</tspan></text>
<path d="M649.9,269.6H658.7" stroke="#161616" stroke-width="1.0"/>
<text transform="translate(662.8,273.1) scale(1.03,1)" class="lg" font-size="8.9">AOPP</text>
<path d="M649.9,280H658.7" stroke="#a0724a" stroke-width="1.0"/>
<text transform="translate(662.8,283.5) scale(1.03,1)" class="lg" font-size="8.9">FRAP</text>
<path d="M649.9,290.4H658.7" stroke="#00ffff" stroke-width="1.0"/>
<text transform="translate(662.8,293.9) scale(1.03,1)" class="lg" font-size="8.9">AST</text>
<path d="M649.9,300.8H658.7" stroke="#00ff00" stroke-width="1.0"/>
<text transform="translate(662.8,304.3) scale(1.03,1)" class="lg" font-size="8.9">CK</text>
<path d="M649.9,311.2H658.7" stroke="#ff00ff" stroke-width="1.0"/>
<text transform="translate(662.8,314.7) scale(1.03,1)" class="lg" font-size="8.9">LDH</text>
<path d="M649.9,321.6H658.7" stroke="#ff8c1a" stroke-width="1.0"/>
<text transform="translate(662.8,325.1) scale(1.03,1)" class="lg" font-size="8.9">ALP</text>
<path d="M649.9,332H658.7" stroke="#962896" stroke-width="1.0"/>
<text transform="translate(662.8,335.5) scale(1.03,1)" class="lg" font-size="8.9">gGT</text>
<path d="M649.9,342.4H658.7" stroke="#ff3a48" stroke-width="1.0"/>
<text transform="translate(662.8,345.9) scale(1.03,1)" class="lg" font-size="8.9">Urea</text>
<path d="M649.9,352.8H658.7" stroke="#ffff00" stroke-width="1.0"/>
<text transform="translate(662.8,356.3) scale(1.03,1)" class="lg" font-size="8.9">Trigl</text>
<path d="M649.9,363.2H658.7" stroke="#3c963c" stroke-width="1.0"/>
<text transform="translate(662.8,366.7) scale(1.03,1)" class="lg" font-size="8.9">Ca</text>
<path d="M649.9,373.6H658.7" stroke="#4040ff" stroke-width="1.0"/>
<text transform="translate(662.8,377.1) scale(1.03,1)" class="lg" font-size="8.9">P</text>
</svg>
</body></html>
